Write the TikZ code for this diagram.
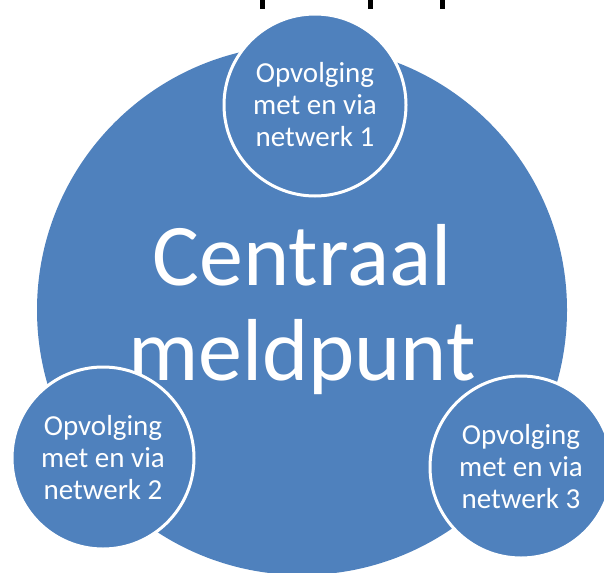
\documentclass[tikz,border=0pt]{standalone}
\usepackage{fontspec}
\setmainfont{Carlito}
\definecolor{accentblue}{HTML}{4F81BD}
\tikzset{
  bigdisc/.style={circle, fill=accentblue, inner sep=0pt, minimum size=530pt,
    text=white, align=center, font=\fontsize{88}{95}\selectfont},
  smalldisc/.style={circle, fill=accentblue, draw=white, line width=3pt,
    inner sep=0pt, minimum size=182pt, text=white, align=center,
    font=\fontsize{29}{32}\selectfont},
  cutmark/.style={fill=black}
}
\begin{document}
\begin{tikzpicture}[x=1pt,y=-1pt]
\useasboundingbox (0,0) rectangle (604,572);
\fill[white] (0,0) rectangle (604,572);
% cut-off fragments of a title at the top edge
\fill[cutmark] (259.5,0) rectangle (264.5,9);
\fill[cutmark] (367.5,0) rectangle (372.5,9);
\fill[cutmark] (439.5,0) rectangle (444.5,9);
\node[bigdisc] (central) at (302,310) {Centraal\\meldpunt};
\node[smalldisc] (net1) at (315,105) {Opvolging\\met en via\\netwerk 1};
\node[smalldisc] (net2) at (103,458) {Opvolging\\met en via\\netwerk 2};
\node[smalldisc] (net3) at (521,467) {Opvolging\\met en via\\netwerk 3};
\end{tikzpicture}
\end{document}
